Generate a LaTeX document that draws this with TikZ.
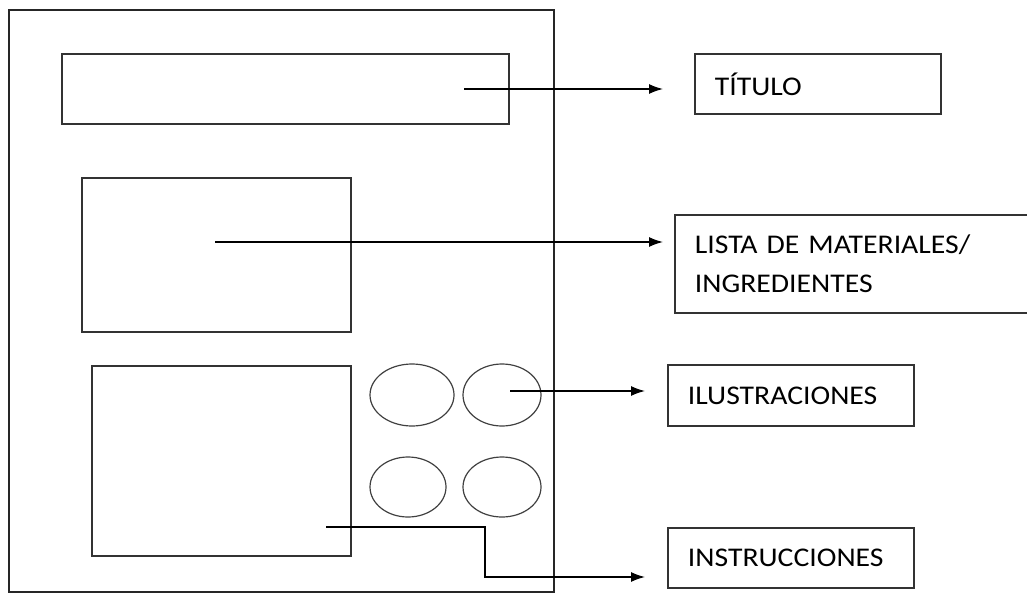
\documentclass[tikz,border=0pt]{standalone}
\usepackage{fontspec}
\setmainfont{Carlito}[FakeStretch=1.1]
\usetikzlibrary{arrows.meta,shapes.geometric}

\begin{document}
\begin{tikzpicture}[x=1pt,y=-1pt,
  box/.style={draw=black!80,line width=1.8pt,anchor=north west,inner sep=0pt},
  oval/.style={draw=black!75,line width=1.2pt,ellipse,inner sep=0pt},
  tag/.style={draw=black!80,line width=1.8pt,anchor=north west,align=left,
    inner xsep=20pt,inner ysep=0pt,font=\fontsize{27}{39}\selectfont},
  arr/.style={line width=1.4pt,-{Latex[length=14pt,width=10pt]}}]
\useasboundingbox (0,0) rectangle (1027,594);

\draw[line width=1.5pt,black!85] (9,10) rectangle (554,592);

\node[box,minimum width=447pt,minimum height=70pt] (titlebar) at (61,53) {};
\node[box,minimum width=269pt,minimum height=154pt] (matbox) at (81,177) {};
\node[box,minimum width=259pt,minimum height=190pt] (insbox) at (91,365) {};

\node[oval,minimum width=84pt,minimum height=62pt] (ilu1) at (412,395) {};
\node[oval,minimum width=78pt,minimum height=62pt] (ilu2) at (502,395) {};
\node[oval,minimum width=76pt,minimum height=60pt] (ilu3) at (408,487) {};
\node[oval,minimum width=78pt,minimum height=60pt] (ilu4) at (502,487) {};

\node[tag,text width=206pt,minimum height=60pt] (titulo) at (694,53) {TÍTULO};
\node[tag,text width=326pt,minimum height=98pt] (lista) at (674,214) {LISTA DE MATERIALES/\\INGREDIENTES};
\node[tag,text width=206pt,minimum height=61pt] (ilus) at (667,364) {ILUSTRACIONES};
\node[tag,text width=206pt,minimum height=60pt] (instr) at (667,527) {INSTRUCCIONES};

\coordinate (titA) at (464,89);
\coordinate (titB) at (663,89);
\coordinate (matA) at (215,242);
\coordinate (matB) at (663,242);
\coordinate (iluA) at (510,391);
\coordinate (iluB) at (645,391);
\coordinate (insA) at (326,527);
\coordinate (insB) at (645,577);

\draw[arr] (titA) -- (titB);
\draw[arr] (matA) -- (matB);
\draw[arr] (iluA) -- (iluB);
\draw[arr] (insA) -- (485,527) |- (insB);
\end{tikzpicture}
\end{document}
